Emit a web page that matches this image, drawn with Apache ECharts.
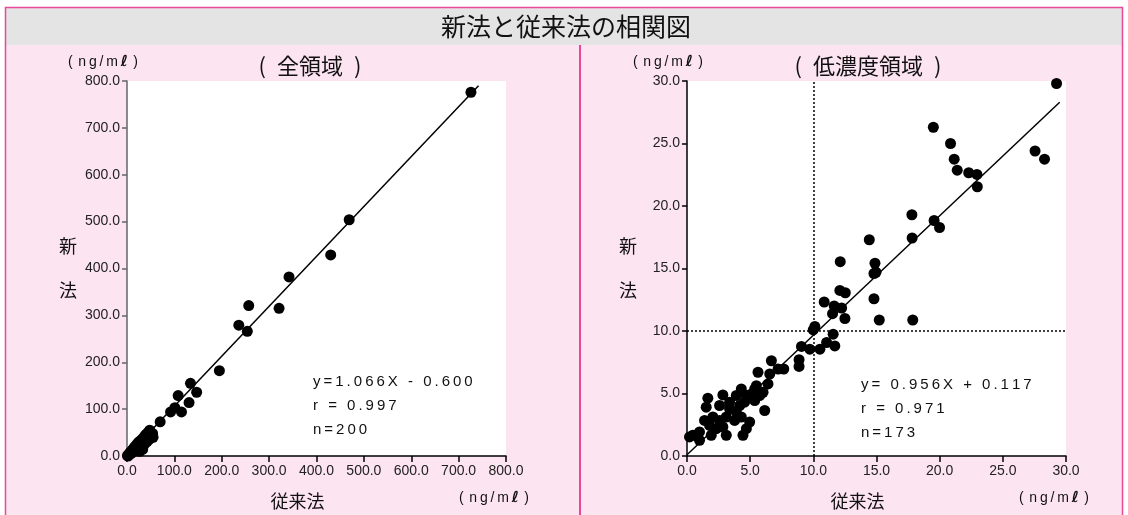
<!DOCTYPE html>
<html>
<head>
<meta charset="utf-8">
<script src="https://cdn.jsdelivr.net/npm/echarts@6/dist/echarts.min.js"></script>
<style>
html, body { margin: 0; padding: 0; background: #fff; }
#myChart { width: 1128px; height: 515px; }
</style>
</head>
<body>
<div id="myChart"></div>
<script>
// 全領域 (ng/mℓ) : [従来法, 新法]
const fullPoints = [
    [1, 1], [2, 0], [3, 3], [4, 2], [5, 5], [6, 4], [7, 8], [8, 5], [9, 10], [10, 7],
    [11, 12], [12, 8], [13, 15], [14, 11], [15, 18], [16, 13], [17, 20], [18, 14], [19, 22], [20, 16],
    [21, 25], [22, 19], [23, 27], [24, 20], [25, 30], [26, 22], [27, 10], [28, 32], [29, 24], [30, 20],
    [31, 35], [32, 27], [33, 14], [34, 38], [35, 30], [36, 24], [37, 42], [38, 34], [40, 46], [41, 36],
    [42, 30], [44, 50], [45, 40], [46, 35], [48, 55], [49, 44], [50, 38], [52, 42], [54, 48], [55, 40],
    [70, 73], [92, 94], [101, 103], [108, 129], [115, 94], [131, 114], [134, 155], [147, 136],
    [195, 182], [236, 279], [254, 266], [257, 321], [321, 315], [342, 382], [430, 429], [469, 504], [726, 776]
];
// 低濃度領域
const lowPoints = [
    [29.25, 29.8], [19.5, 26.3], [20.86, 25.0], [21.15, 23.75], [21.39, 22.87], [22.3, 22.66], [22.95, 22.53],
    [22.98, 21.54], [27.55, 24.4], [28.3, 23.75], [17.8, 19.3], [19.56, 18.84], [19.99, 18.28], [17.82, 17.44],
    [14.43, 17.3], [12.13, 15.55], [14.88, 15.42], [14.96, 14.7], [14.8, 14.6], [12.1, 13.25], [12.53, 13.06],
    [14.8, 12.58], [10.86, 12.32], [11.65, 12.0], [12.24, 11.84], [11.52, 11.39], [12.5, 11.0], [15.22, 10.88],
    [17.87, 10.88], [10.12, 10.36], [9.99, 10.09], [11.57, 9.75],
    [11.7, 8.81], [11.05, 9.08], [10.52, 8.55], [9.72, 8.55], [9.06, 8.77], [8.87, 7.7], [8.87, 7.17],
    [7.66, 6.96], [7.21, 6.96], [6.68, 7.62], [6.55, 6.56], [6.41, 5.77], [5.62, 6.7], [5.49, 5.63], [6.15, 3.64],
    [4.3, 5.37], [2.84, 4.89], [1.65, 4.63], [1.52, 3.91], [2.58, 4.04], [3.37, 4.31], [3.9, 4.84], [4.7, 4.84],
    [5.1, 4.97], [5.75, 4.84], [4.56, 4.31], [3.9, 3.52], [3.11, 3.12], [2.58, 2.85], [2.05, 3.12], [1.79, 2.45],
    [1.39, 2.85], [0.99, 1.93], [0.46, 1.66], [0.2, 1.53], [0.99, 1.26], [1.92, 1.66], [2.32, 2.19], [3.11, 1.66],
    [2.84, 2.32], [4.43, 1.66], [4.7, 2.19], [4.96, 2.72], [3.77, 2.85], [3.37, 3.78], [4.17, 4.04], [5.36, 4.44],
    [4.3, 3.12], [5.36, 5.37], [6.02, 5.1]
];
// 回帰直線の端点
const fullFit = [[0, 0], [742, 790]];
const lowFit = [[0, 0.1], [29.5, 28.3]];
// 軸
const fullAxis = { min: 0, max: 800, interval: 100 };
const lowAxis = { min: 0, max: 30, interval: 5 };
const lowRefLines = [10, 10];
// 注記
const fullStats = ['y=1.066X - 0.600', 'r = 0.997', 'n=200'];
const lowStats = ['y= 0.956X + 0.117', 'r = 0.971', 'n=173'];

const PINK = '#e8479a';
const JP = '"Noto Sans CJK JP", sans-serif';
const NUM = '"Liberation Sans", Arial, sans-serif';

let myChart = echarts.init(document.getElementById('myChart'));

const spaced = s => s.split('').join('\u2009');

function xAxisOf(idx, range) {
    return {
        type: 'value', gridIndex: idx, min: range.min, max: range.max, interval: range.interval,
        name: '従来法', nameLocation: 'middle', nameGap: 36,
        nameTextStyle: { fontFamily: JP, fontSize: 18, color: '#111', padding: [0, 38, 0, 0] },
        axisLine: { lineStyle: { color: '#000', width: 1.5 } },
        axisTick: { length: 6, lineStyle: { color: '#000', width: 1.5 } },
        axisLabel: { formatter: v => v.toFixed(1), fontFamily: NUM, fontSize: 14, color: '#222', margin: 8 },
        splitLine: { show: false }
    };
}
function yAxisOf(idx, range, lineColor) {
    return {
        type: 'value', gridIndex: idx, min: range.min, max: range.max, interval: range.interval,
        name: '新\n法', nameLocation: 'middle', nameGap: 50, nameRotate: 0,
        nameTextStyle: { fontFamily: JP, fontSize: 18, color: '#111', lineHeight: 44, padding: [0, 0, 11, 0] },
        axisLine: { lineStyle: { color: lineColor, width: 1.5 } },
        axisTick: { length: 5, lineStyle: { color: lineColor, width: 1.5 } },
        axisLabel: { formatter: v => v.toFixed(1), fontFamily: NUM, fontSize: 14, color: '#222', margin: 7 },
        splitLine: { show: false }
    };
}
function txt(x, y, text, size, align, family, extra) {
    return {
        type: 'text', x: x, y: y, silent: true,
        style: Object.assign({
            text: text, fontSize: size, fontFamily: family, fill: '#111',
            align: align, verticalAlign: 'middle', textAlign: align, textVerticalAlign: 'middle'
        }, extra || {})
    };
}
const unitRich = { rich: { b: { fontWeight: 'bold', fontSize: 15, fontFamily: 'DejaVu Sans', fill: '#111' } } };
function unit(x, y, align) {
    return txt(x, y, '(\u2009\u2009n\u2009g\u2009/\u2009m\u2009{b|ℓ}\u2009\u2009)', 14, align, NUM, unitRich);
}

let graphics = [
    { type: 'rect', shape: { x: 0, y: 0, width: 1128, height: 7 }, style: { fill: '#fff' }, silent: true },
    { type: 'rect', shape: { x: 0, y: 0, width: 5, height: 515 }, style: { fill: '#fff' }, silent: true },
    { type: 'rect', shape: { x: 1123, y: 0, width: 5, height: 515 }, style: { fill: '#fff' }, silent: true },
    { type: 'rect', shape: { x: 5, y: 8, width: 1118, height: 37 }, style: { fill: '#e4e4e4' }, silent: true },
    { type: 'rect', shape: { x: 5.5, y: 7.5, width: 1117, height: 520 }, style: { fill: 'none', stroke: PINK, lineWidth: 1.5 }, silent: true },
    { type: 'line', shape: { x1: 580, y1: 45, x2: 580, y2: 515 }, style: { stroke: PINK, lineWidth: 2 }, silent: true },
    txt(566, 26, '新法と従来法の相関図', 25, 'center', JP),
    txt(310, 66, '(\u2002全領域\u2002)', 22, 'center', JP),
    txt(868, 66, '(\u2002低濃度領域\u2002)', 22, 'center', JP),
    unit(103, 62, 'center'),
    unit(668, 62, 'center'),
    unit(529, 498, 'right'),
    unit(1089, 498, 'right')
];
fullStats.forEach((s, i) => graphics.push(txt(313, 382 + i * 24, spaced(s), 15, 'left', NUM)));
lowStats.forEach((s, i) => graphics.push(txt(861, 385 + i * 24, spaced(s), 15, 'left', NUM)));

let option = {
    backgroundColor: '#fce4f0',
    animation: false,
    grid: [
        { left: 127, top: 81, width: 379, height: 378, show: true, backgroundColor: '#fff', borderWidth: 0 },
        { left: 687, top: 81, width: 379, height: 377, show: true, backgroundColor: '#fff', borderWidth: 0 }
    ],
    xAxis: [xAxisOf(0, fullAxis), xAxisOf(1, lowAxis)],
    yAxis: [yAxisOf(0, fullAxis, '#666'), yAxisOf(1, lowAxis, '#000')],
    graphic: graphics,
    series: [
        {
            type: 'line', xAxisIndex: 0, yAxisIndex: 0, data: fullFit, symbol: 'none',
            lineStyle: { color: '#000', width: 1.5 }, z: 2
        },
        {
            type: 'scatter', xAxisIndex: 0, yAxisIndex: 0, data: fullPoints, symbolSize: 11,
            itemStyle: { color: '#000', opacity: 1 }, z: 3
        },
        {
            type: 'line', xAxisIndex: 1, yAxisIndex: 1, data: lowFit, symbol: 'none',
            lineStyle: { color: '#000', width: 1.5 }, z: 2,
            markLine: {
                silent: true, symbol: 'none', label: { show: false },
                lineStyle: { color: '#000', type: [2, 2], width: 1.5 },
                data: [{ xAxis: lowRefLines[0] }, { yAxis: lowRefLines[1] }]
            }
        },
        {
            type: 'scatter', xAxisIndex: 1, yAxisIndex: 1, data: lowPoints, symbolSize: 11,
            itemStyle: { color: '#000', opacity: 1 }, z: 3
        }
    ]
};
myChart.setOption(option);

window.addEventListener('resize', () => {
    myChart.resize();
});
</script>
</body>
</html>
